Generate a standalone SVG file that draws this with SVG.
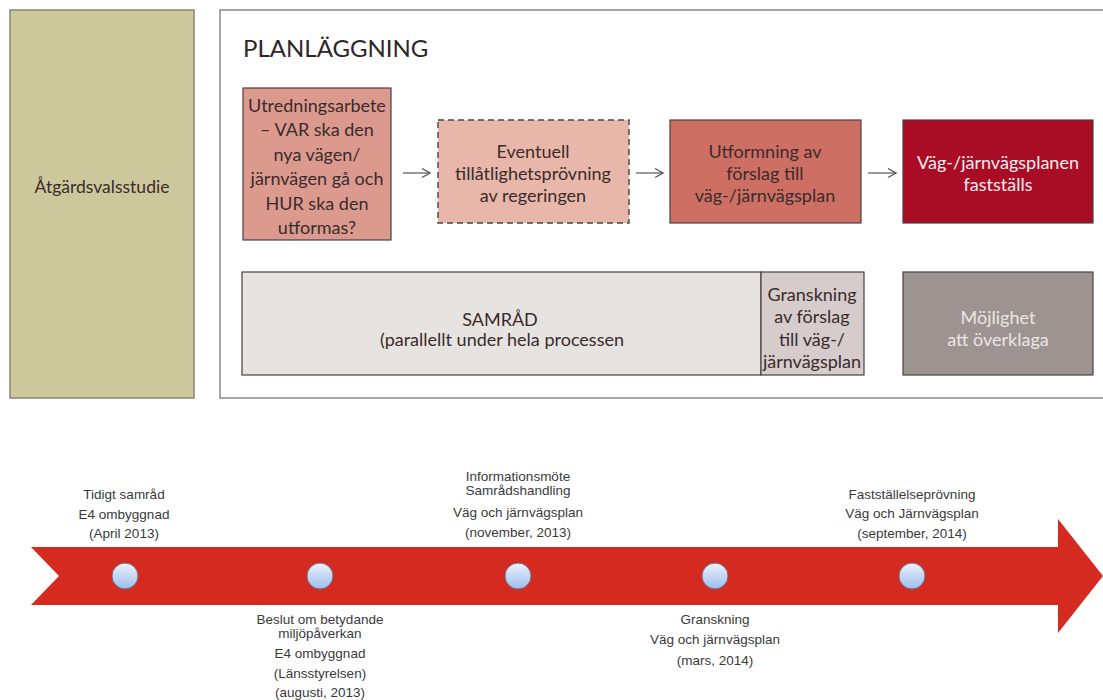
<svg xmlns="http://www.w3.org/2000/svg" width="1103" height="700" viewBox="0 0 1103 700">
<defs>
<style>
.t{font-family:Lato,"Open Sans","Liberation Sans",sans-serif;font-size:18px;fill:#3a2b2b;text-anchor:middle}
.w{fill:#f4eeee}
.m{fill:#ece6e4}
.tl{font-family:"Liberation Sans",Arial,sans-serif;font-size:13.5px;fill:#3a3a3a;text-anchor:middle}
.box{stroke:#4a4040;stroke-width:1.2}
.conn{stroke:#555;stroke-width:1.2;fill:none}
</style>
<marker id="ah" viewBox="0 0 10 10" refX="9" refY="5" markerWidth="10" markerHeight="10" markerUnits="userSpaceOnUse" orient="auto">
<path d="M1,0.5 L9,5 L1,9.5" fill="none" stroke="#555" stroke-width="1.2"/>
</marker>
<linearGradient id="cg" x1="0" y1="0" x2="0" y2="1">
<stop offset="0" stop-color="#eef2fb"/>
<stop offset="1" stop-color="#9dbdf0"/>
</linearGradient>
</defs>
<rect width="1103" height="700" fill="#fff"/>

<g id="atgardsvalsstudie">
<rect x="10" y="10" width="184" height="388" fill="#cdc89c" stroke="#8a8670" stroke-width="1.5"/>
<text class="t" x="102" y="193" style="font-size:17.5px">Åtgärdsvalsstudie</text>
</g>

<g id="planlaggning">
<rect x="220" y="10" width="900" height="388" fill="#fff" stroke="#888" stroke-width="1.5"/>
<text x="243" y="57" style="font-family:Lato,'Open Sans','Liberation Sans',sans-serif;font-size:24px;fill:#2f2626">PLANLÄGGNING</text>
</g>

<g id="utredningsarbete">
<rect class="box" x="243" y="88" width="148" height="152" fill="#dc9a8f"/>
<text class="t"><tspan x="317" y="112">Utredningsarbete</tspan><tspan x="317" y="136">– VAR ska den</tspan><tspan x="317" y="161">nya vägen/</tspan><tspan x="317" y="185">järnvägen gå och</tspan><tspan x="317" y="210">HUR ska den</tspan><tspan x="317" y="234">utformas?</tspan></text>
</g>

<g id="tillatlighet">
<rect x="438" y="120" width="191" height="103" fill="#e8b7aa" stroke="#444" stroke-width="1.4" stroke-dasharray="6,4"/>
<text class="t"><tspan x="533" y="158">Eventuell</tspan><tspan x="533" y="180">tillåtlighetsprövning</tspan><tspan x="533" y="202">av regeringen</tspan></text>
</g>

<g id="utformning">
<rect class="box" x="670" y="120" width="191" height="103" fill="#cd6f63"/>
<text class="t"><tspan x="765" y="158">Utformning av</tspan><tspan x="765" y="180">förslag till</tspan><tspan x="765" y="202">väg-/järnvägsplan</tspan></text>
</g>

<g id="faststalls">
<rect class="box" x="903" y="120" width="190" height="103" fill="#a90d26"/>
<text class="t w"><tspan x="998" y="169">Väg-/järnvägsplanen</tspan><tspan x="998" y="191">fastställs</tspan></text>
</g>

<g id="samrad">
<rect class="box" x="242" y="272" width="519" height="103" fill="#e6e3e1"/>
<text class="t"><tspan x="500" y="326">SAMRÅD</tspan><tspan x="502" y="346">(parallellt under hela processen</tspan></text>
</g>

<g id="granskning">
<rect class="box" x="761" y="272" width="103" height="103" fill="#d5cccb"/>
<text class="t"><tspan x="812" y="301">Granskning</tspan><tspan x="812" y="323">av förslag</tspan><tspan x="812" y="346">till väg-/</tspan><tspan x="812" y="368">järnvägsplan</tspan></text>
</g>

<g id="overklaga">
<rect class="box" x="903" y="272" width="190" height="103" fill="#9d9390"/>
<text class="t m"><tspan x="998" y="324">Möjlighet</tspan><tspan x="998" y="346">att överklaga</tspan></text>
</g>

<g id="connectors">
<line class="conn" x1="403" y1="173" x2="430" y2="173" marker-end="url(#ah)"/>
<line class="conn" x1="636" y1="173" x2="663" y2="173" marker-end="url(#ah)"/>
<line class="conn" x1="868" y1="173" x2="896" y2="173" marker-end="url(#ah)"/>
</g>

<g id="timeline">
<path d="M31,547 L1058,547 L1058,519 L1103,576 L1058,633 L1058,605 L31,605 L59,576 Z" fill="#d52a1f"/>
<g fill="url(#cg)" stroke="#6f6f7a" stroke-width="1">
<circle cx="125" cy="576" r="13"/>
<circle cx="320" cy="576" r="13"/>
<circle cx="518" cy="576" r="13"/>
<circle cx="715" cy="576" r="13"/>
<circle cx="912" cy="576" r="13"/>
</g>
</g>

<g id="m1"><text class="tl"><tspan x="124" y="499">Tidigt samråd</tspan><tspan x="124" y="519">E4 ombyggnad</tspan><tspan x="124" y="538">(April 2013)</tspan></text></g>
<g id="m2"><text class="tl"><tspan x="320" y="624">Beslut om betydande</tspan><tspan x="320" y="638">miljöpåverkan</tspan><tspan x="320" y="658">E4 ombyggnad</tspan><tspan x="320" y="678">(Länsstyrelsen)</tspan><tspan x="320" y="697">(augusti, 2013)</tspan></text></g>
<g id="m3"><text class="tl"><tspan x="518" y="481">Informationsmöte</tspan><tspan x="518" y="495">Samrådshandling</tspan><tspan x="518" y="517">Väg och järnvägsplan</tspan><tspan x="518" y="537">(november, 2013)</tspan></text></g>
<g id="m4"><text class="tl"><tspan x="715" y="624">Granskning</tspan><tspan x="715" y="644">Väg och järnvägsplan</tspan><tspan x="715" y="665">(mars, 2014)</tspan></text></g>
<g id="m5"><text class="tl"><tspan x="912" y="499">Fastställelseprövning</tspan><tspan x="912" y="518">Väg och Järnvägsplan</tspan><tspan x="912" y="538">(september, 2014)</tspan></text></g>
</svg>
